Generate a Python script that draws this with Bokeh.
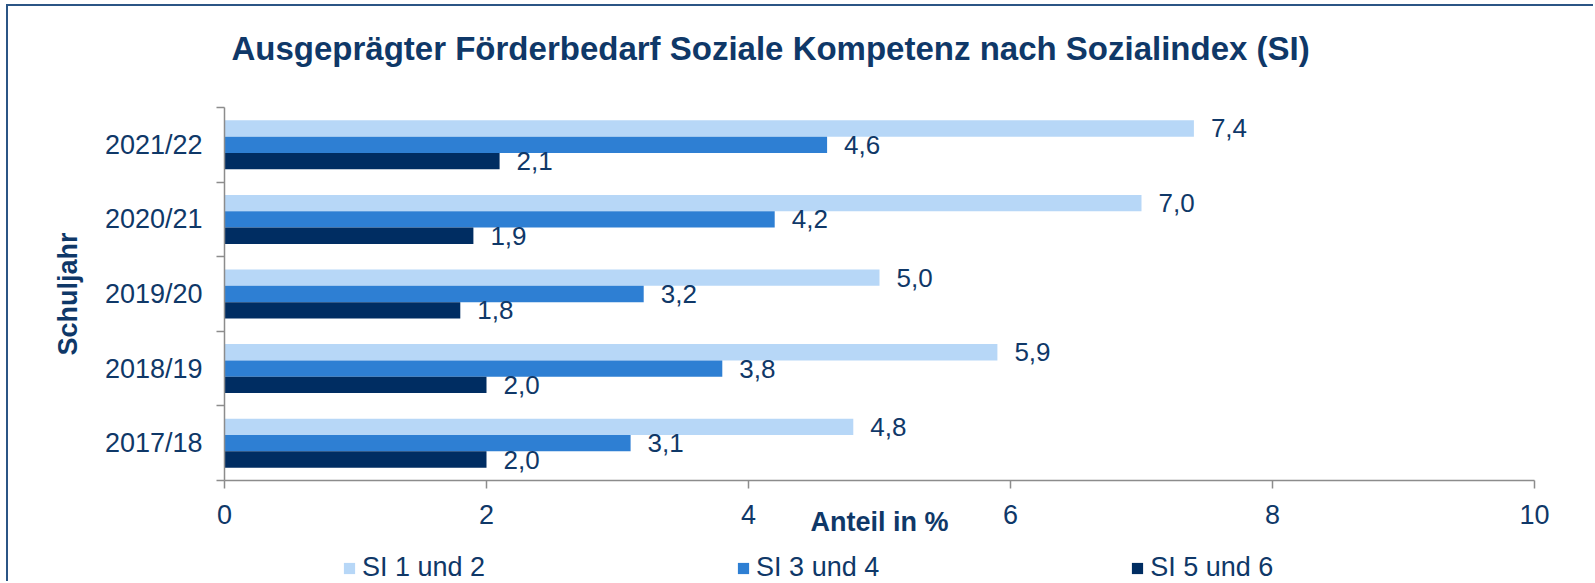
from bokeh.plotting import figure
from bokeh.layouts import column
from bokeh.models import Range1d, FixedTicker, Legend, LegendItem, ColumnDataSource
from bokeh.core.properties import value
from bokeh.embed import file_html
from bokeh.resources import INLINE

# ---- data ----
years = ["2017/18", "2018/19", "2019/20", "2020/21", "2021/22"]
series = ["SI 1 und 2", "SI 3 und 4", "SI 5 und 6"]
si12 = [4.8, 5.9, 5.0, 7.0, 7.4]
si34 = [3.1, 3.8, 3.2, 4.2, 4.6]
si56 = [2.0, 2.0, 1.8, 1.9, 2.1]
x_ticks = [0, 2, 4, 6, 8, 10]
title_text = "Ausgeprägter Förderbedarf  Soziale Kompetenz nach Sozialindex (SI)"
x_label = "Anteil in %"
y_label = "Schuljahr"

# ---- style ----
colors = ["#B7D7F7", "#2E7FD3", "#002D62"]
navy = "#0F3868"
grey = "#8C8C8C"
FONT = "Liberation Sans"
bar_h = 0.219
offsets = [bar_h, 0.0, -bar_h]
BL, BR = 216, 61  # left / right borders shared by all strips

# ---- title strip ----
tf = figure(width=1587, height=76, x_range=Range1d(0, 1), y_range=Range1d(0, 1),
            output_backend="svg", toolbar_location=None,
            x_axis_type=None, y_axis_type=None,
            min_border_left=BL, min_border_right=BR, min_border_top=65, min_border_bottom=0)
tf.outline_line_color = None
tf.grid.visible = False
tf.title.text = title_text
tf.title.align = "left"
tf.title.offset = 7
tf.title.text_font = FONT
tf.title.text_font_size = "33px"
tf.title.text_font_style = "bold"
tf.title.text_color = navy
tf.title.standoff = 10

# ---- main chart ----
p = figure(width=1587, height=465, x_range=Range1d(0, 10), y_range=Range1d(0, len(years)),
           output_backend="svg", toolbar_location=None,
           min_border_left=BL, min_border_right=BR, min_border_top=25, min_border_bottom=67)
p.outline_line_color = None
p.xgrid.visible = False
p.ygrid.visible = False

renderers = []
sources = []
for k, (name, vals) in enumerate(zip(series, [si12, si34, si56])):
    ys = [i + 0.5 + offsets[k] for i in range(len(years))]
    src = ColumnDataSource(dict(y=ys, v=vals,
                                lab=[f"{v:.1f}".replace(".", ",") for v in vals]))
    sources.append(src)
    r = p.hbar(y="y", left=0, right="v", height=bar_h, source=src,
               fill_color=colors[k], line_color=None)
    renderers.append(r)
    p.text(x="v", y="y", text="lab", source=src, x_offset=17,
           text_align="left", text_baseline="middle",
           text_font=value(FONT), text_font_size=value("26px"), text_color=navy)

# x axis
xa = p.xaxis[0]
xa.ticker = FixedTicker(ticks=x_ticks)
xa.major_tick_out = 8
xa.major_tick_in = 0
xa.minor_tick_out = 0
xa.minor_tick_in = 0
xa.axis_line_color = grey
xa.axis_line_width = 1.5
xa.major_tick_line_color = grey
xa.major_tick_line_width = 1.5
xa.major_label_text_font = FONT
xa.major_label_text_font_size = "27px"
xa.major_label_text_color = navy
xa.major_label_standoff = 16
xa.axis_label = x_label
xa.axis_label_text_font = FONT
xa.axis_label_text_font_size = "27px"
xa.axis_label_text_font_style = "bold"
xa.axis_label_text_color = navy
xa.axis_label_standoff = -20

# y axis
ya = p.yaxis[0]
centers = [i + 0.5 for i in range(len(years))]
ya.ticker = FixedTicker(ticks=centers, minor_ticks=list(range(len(years) + 1)))
ya.major_label_overrides = {c: y for c, y in zip(centers, years)}
ya.major_tick_out = 0
ya.major_tick_in = 0
ya.major_tick_line_color = None
ya.minor_tick_out = 8
ya.minor_tick_in = 0
ya.minor_tick_line_color = grey
ya.minor_tick_line_width = 1.5
ya.axis_line_color = grey
ya.axis_line_width = 1.5
ya.major_label_text_font = FONT
ya.major_label_text_font_size = "27px"
ya.major_label_text_color = navy
ya.major_label_standoff = 14
ya.axis_label = y_label
ya.axis_label_text_font = FONT
ya.axis_label_text_font_size = "27px"
ya.axis_label_text_font_style = "bold"
ya.axis_label_text_color = navy
ya.axis_label_standoff = 19

# ---- legend strip (its bars lie outside its view; only the legend shows) ----
lf = figure(width=1587, height=36, x_range=Range1d(100, 110), y_range=Range1d(100, 110),
            output_backend="svg", toolbar_location=None,
            x_axis_type=None, y_axis_type=None,
            min_border_left=BL, min_border_right=BR, min_border_top=0, min_border_bottom=0)
lf.outline_line_color = None
lf.grid.visible = False
legend_renderers = []
for k in range(len(series)):
    legend_renderers.append(lf.hbar(y="y", left=0, right="v", height=bar_h, source=sources[k],
                                    fill_color=colors[k], line_color=None))
legend = Legend(items=[LegendItem(label=s, renderers=[r]) for s, r in zip(series, legend_renderers)],
                location=(118, 0), orientation="horizontal",
                glyph_width=14, glyph_height=14, label_standoff=6, spacing=251,
                padding=0, margin=0, border_line_color=None, background_fill_alpha=0,
                label_text_font=FONT, label_text_font_size="27px", label_text_color=navy)
lf.add_layout(legend)

layout = column(tf, p, lf, spacing=0)
layout.margin = (6, 0, 0, 8)
layout.styles = {"box-shadow": "-2px -2px 0 0 #2B5585"}

open("out.html", "w").write(file_html(layout, INLINE))
